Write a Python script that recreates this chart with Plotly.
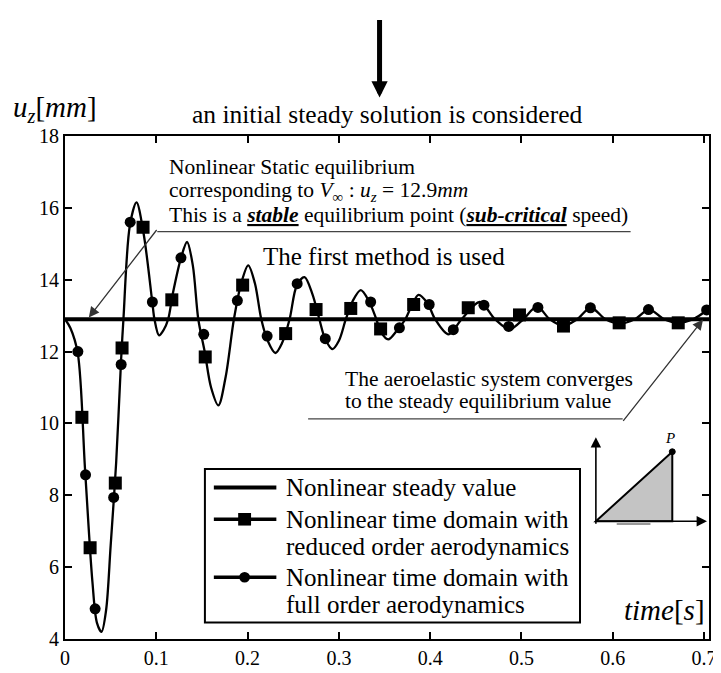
import plotly.graph_objects as go

# ---------------- data ----------------
# continuous response curve (hand-read key points: extrema, crossings, slopes)
curve_time = [0.000, 0.006, 0.014, 0.022, 0.030, 0.035, 0.040, 0.045, 0.050, 0.056,
              0.0615, 0.064, 0.071, 0.0783, 0.086, 0.0955, 0.098, 0.103, 0.108, 0.113,
              0.118, 0.127, 0.1337, 0.140, 0.146, 0.153, 0.160, 0.168, 0.176, 0.185,
              0.193, 0.2007, 0.208, 0.215, 0.222, 0.2304, 0.238, 0.246, 0.254, 0.2623,
              0.271, 0.2786, 0.285, 0.293, 0.300, 0.3076, 0.315, 0.324, 0.333, 0.341,
              0.346, 0.354, 0.364, 0.3728, 0.381, 0.3873, 0.397, 0.4054, 0.420, 0.4344,
              0.4543, 0.471, 0.487, 0.502, 0.517, 0.531, 0.546, 0.561, 0.576, 0.592,
              0.608, 0.624, 0.640, 0.656, 0.672, 0.688, 0.703]
curve_uz = [12.90, 12.65, 11.95, 8.70, 5.60, 4.45, 4.20, 4.80, 6.60, 8.90,
            11.80, 12.90, 15.50, 16.15, 15.30, 13.40, 12.90, 12.45, 12.60, 12.90,
            13.60, 14.60, 15.05, 14.40, 12.90, 12.00, 11.00, 10.50, 11.30, 12.90,
            13.90, 14.40, 13.90, 12.90, 12.30, 11.96, 12.25, 12.90, 13.85, 14.07,
            13.60, 12.90, 12.35, 12.07, 12.30, 12.90, 13.40, 13.71, 13.40, 12.90,
            12.55, 12.34, 12.60, 12.90, 13.35, 13.58, 13.35, 12.90, 12.48, 12.90,
            13.38, 12.90, 12.62, 12.90, 13.25, 12.90, 12.72, 12.90, 13.22, 12.90,
            12.78, 12.90, 13.17, 12.90, 12.80, 12.90, 13.15]

# reduced order aerodynamics samples (squares)
reduced_time = [0.0185, 0.0275, 0.0551, 0.0625, 0.0855, 0.117, 0.1536, 0.1946, 0.2417,
                0.275, 0.313, 0.3457, 0.3819, 0.4417, 0.4978, 0.546, 0.607, 0.6717]
reduced_uz = [10.17, 6.54, 8.34, 12.10, 15.46, 13.44, 11.85, 13.85, 12.50,
              13.17, 13.20, 12.63, 13.31, 13.22, 13.02, 12.71, 12.80, 12.80]

# full order aerodynamics samples (circles)
full_time = [0.0141, 0.0225, 0.033, 0.0533, 0.0615, 0.0714, 0.0957, 0.127, 0.152,
             0.1888, 0.2214, 0.2543, 0.2851, 0.3348, 0.3663, 0.3989, 0.4253, 0.4589,
             0.486, 0.518, 0.5755, 0.6391, 0.7028]
full_uz = [12.00, 8.57, 4.84, 7.94, 11.64, 15.60, 13.38, 14.61, 12.48,
           13.42, 12.43, 13.89, 12.36, 13.38, 12.66, 13.31, 12.61, 13.29,
           12.70, 13.23, 13.22, 13.17, 13.16]

# nonlinear steady value
steady_time = [0.0, 0.7054]
steady_uz = [12.9, 12.9]

x_ticks = [0, 0.1, 0.2, 0.3, 0.4, 0.5, 0.6, 0.7]
x_tick_labels = ["0", "0.1", "0.2", "0.3", "0.4", "0.5", "0.6", "0.7"]
y_ticks = [4, 6, 8, 10, 12, 14, 16, 18]

series_names = ["Nonlinear steady value",
                "Nonlinear time domain with<br>reduced order aerodynamics",
                "Nonlinear time domain with<br>full order aerodynamics"]

# ---------------- layout helpers (pixel -> paper) ----------------
W, H = 721, 673
L, R, T, B = 57, 706, 128, 649


def px(x):
    return (x - L) / (R - L)


def py(y):
    return (B - y) / (B - T)


FONT = "Liberation Serif"

fig = go.Figure()

fig.add_trace(go.Scatter(x=steady_time, y=steady_uz, mode="lines",
                         line=dict(color="black", width=4),
                         name=series_names[0], showlegend=False))
fig.add_trace(go.Scatter(x=curve_time, y=curve_uz, mode="lines",
                         line=dict(color="black", width=2.3, shape="spline", smoothing=0.9),
                         name="response", showlegend=False, hoverinfo="skip"))
fig.add_trace(go.Scatter(x=reduced_time, y=reduced_uz, mode="markers",
                         marker=dict(symbol="square", size=13, color="black"),
                         name=series_names[1], showlegend=False))
fig.add_trace(go.Scatter(x=full_time, y=full_uz, mode="markers",
                         marker=dict(symbol="circle", size=11, color="black"),
                         name=series_names[2], showlegend=False))

axis_common = dict(showline=True, linecolor="black", linewidth=2, mirror="ticks",
                   ticks="inside", ticklen=7, tickwidth=1.5, tickcolor="black",
                   showgrid=False, zeroline=False,
                   tickfont=dict(family=FONT, size=20, color="black"))

fig.update_xaxes(range=[0, 0.7054], tickvals=x_ticks, ticktext=x_tick_labels, **axis_common)
fig.update_yaxes(range=[4, 18], tickvals=y_ticks, **axis_common)

annotations = []
shapes = []


def text(x, y, s, size, xanchor="left", **kw):
    annotations.append(dict(x=px(x), y=py(y), xref="paper", yref="paper", text=s,
                            showarrow=False, xanchor=xanchor, yanchor="middle",
                            font=dict(family=FONT, size=size, color="black"), **kw))


def arrow(x_tip, y_tip, x_tail, y_tail, width, size, color="black"):
    annotations.append(dict(x=px(x_tip), y=py(y_tip), xref="paper", yref="paper", text="",
                            showarrow=True, arrowhead=2, arrowsize=size, arrowwidth=width,
                            arrowcolor=color, ax=x_tail - x_tip, ay=y_tail - y_tip,
                            axref="pixel", ayref="pixel"))


def line(x0, y0, x1, y1, width, color):
    shapes.append(dict(type="line", xref="paper", yref="paper",
                       x0=px(x0), y0=py(y0), x1=px(x1), y1=py(y1),
                       line=dict(color=color, width=width)))


text(381, 106, "an initial steady solution is considered", 25.5, xanchor="center")
text(3, 100, "<i>u</i><sub><i>z</i></sub>[<i>mm</i>]", 29)
text(704, 619, "<i>time</i>[<i>s</i>]", 29, xanchor="right")
text(160, 160, "Nonlinear Static equilibrium", 21.5)
text(160, 185, "corresponding to <i>V</i><sub>∞</sub> : <i>u</i><sub><i>z</i></sub> = 12.9<i>mm</i>", 21.5)
text(160, 210, "This is a <b><i><u>stable</u></i></b> equilibrium point (<b><i><u>sub-critical</u></i></b> speed)", 21.5)
text(255, 253, "The first method is used", 25)
text(337, 380, "The aeroelastic system converges", 21.5)
text(337, 403, "to the steady equilibrium value", 21.5)
text(667, 441, "<i>P</i>", 15, xanchor="center")

# big arrow on top
arrow(374, 88, 374, 9, 5, 0.65)
# callout arrows
arrow(81, 316, 150, 227, 1.3, 1.6, "#333333")
arrow(700, 318, 619, 421, 1.3, 1.6, "#333333")
# inset axes arrows
arrow(592, 440, 592, 528, 1.6, 1.3)
arrow(704, 527, 591, 527, 1.6, 1.3)

line(150, 227, 627, 227, 1.3, "#444444")
line(302, 421, 619, 421, 1.3, "#444444")
shapes.append(dict(type="path", xref="paper", yref="paper",
                   path=f"M{px(592)},{py(527)} L{px(669)},{py(455)} L{px(669)},{py(527)} Z",
                   fillcolor="#c4c4c4", line=dict(color="black", width=2)))
shapes.append(dict(type="circle", xref="paper", yref="paper",
                   x0=px(666), y0=py(458), x1=px(672), y1=py(452),
                   fillcolor="black", line=dict(color="black", width=1)))
line(613, 530, 647, 530, 2, "#999999")

# ---------------- legend box (drawn to match the reference's tight line spacing) ----------------
shapes.append(dict(type="rect", xref="paper", yref="paper",
                   x0=px(198), y0=py(632), x1=px(576), y1=py(473),
                   fillcolor="white", line=dict(color="black", width=2), layer="above"))
entry_y = [492, 525, 585]
line_step = 28.5
symbols = [None, "square", "circle"]
for name, sym, ey in zip(series_names, symbols, entry_y):
    line(207, ey, 270, ey, 4 if sym is None else 3.5, "black")
    if sym == "square":
        shapes.append(dict(type="rect", xref="paper", yref="paper",
                           x0=px(231.5), y0=py(ey + 6.5), x1=px(244.5), y1=py(ey - 6.5),
                           fillcolor="black", line=dict(width=0), layer="above"))
    elif sym == "circle":
        shapes.append(dict(type="circle", xref="paper", yref="paper",
                           x0=px(232.5), y0=py(ey + 5.5), x1=px(243.5), y1=py(ey - 5.5),
                           fillcolor="black", line=dict(width=0), layer="above"))
    for k, part in enumerate(name.split("<br>")):
        text(278, ey + k * line_step, part, 25)

fig.update_layout(
    width=W, height=H,
    margin=dict(l=L, r=W - R, t=T, b=H - B, pad=0),
    plot_bgcolor="white", paper_bgcolor="white",
    font=dict(family=FONT, color="black"),
    annotations=annotations, shapes=shapes,
    showlegend=False,
)

fig.write_html("out.html")
